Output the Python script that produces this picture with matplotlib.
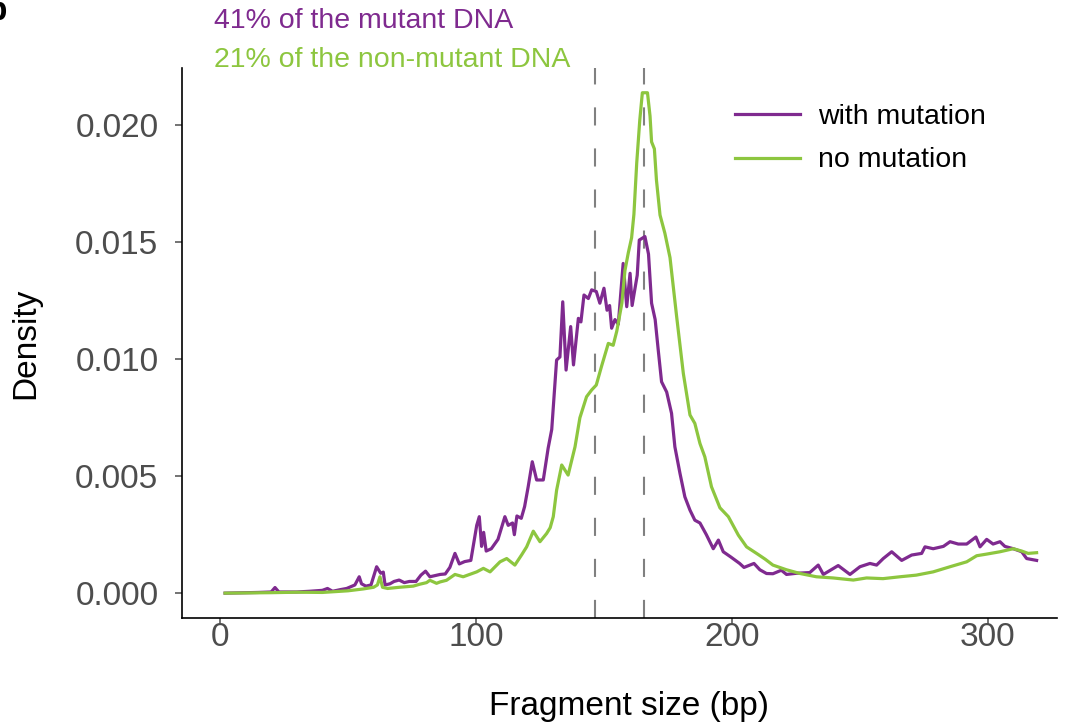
import numpy as np
import matplotlib.pyplot as plt

plt.rcParams['font.family'] = ['Liberation Sans', 'DejaVu Sans']

# fragment size (bp) and density (x 1e-3), with mutation
mut_size = [2, 10, 15, 20, 21.5, 23, 30, 35, 40, 42, 44, 47, 49.5, 52.7, 54.4, 55.3, 57, 59,
            61.2, 62.8, 63.8, 64.5, 66.4, 68, 70, 72, 74, 76.6, 78.5, 80.3, 82, 84, 86, 88,
            89.8, 91.8, 93.5, 95.6, 98, 100.3, 101.3, 102.2, 103, 104, 106, 108.6, 111.3,
            112.6, 114.3, 115, 116, 117.7, 119, 120.4, 122, 123.7, 126.3, 128.2, 129.6,
            131.5, 132.8, 133.9, 135.2, 137, 138.1, 140, 141, 142.2, 143.9, 145.2, 147,
            148.4, 150, 151.2, 152.2, 153, 154.3, 155.6, 157.5, 158.9, 160.2, 161, 163,
            163.8, 166, 167.4, 168.6, 170, 171.2, 172.5, 174.5, 176.4, 177.7, 179.7, 181.6,
            183.6, 185.5, 187.5, 190, 192.7, 194.7, 196.6, 199.5, 203, 204.7, 208.6, 210.9,
            213.5, 216, 219.3, 221.3, 225.2, 230.4, 233.7, 235.7, 241.5, 246.1, 250, 253.9,
            256.5, 259.1, 262.4, 266.3, 270.2, 274.1, 275.4, 278.6, 282.6, 285.2, 288.4,
            291.7, 295.3, 296.9, 299.5, 302, 304.7, 306.6, 309.9, 313.2, 315.1, 319]
mut_density = [0.0, 0.02, 0.03, 0.05, 0.24, 0.05, 0.05, 0.08, 0.12, 0.2, 0.08, 0.15, 0.2,
               0.35, 0.7, 0.4, 0.3, 0.35, 1.13, 0.85, 0.9, 0.35, 0.4, 0.5, 0.56, 0.45, 0.5,
               0.5, 0.77, 0.94, 0.7, 0.75, 0.8, 0.82, 1.1, 1.7, 1.25, 1.35, 1.4, 2.9, 3.27,
               2.0, 2.6, 1.8, 1.9, 2.3, 3.27, 2.9, 3.0, 2.5, 3.3, 3.2, 3.7, 4.55, 5.62, 4.84,
               4.84, 6.2, 7.0, 9.97, 10.1, 12.46, 9.54, 11.4, 9.76, 11.75, 11.6, 12.75, 12.6,
               12.97, 12.9, 12.4, 13.04, 12.1, 12.3, 11.33, 11.7, 11.5, 14.1, 12.25, 13.68,
               12.3, 13.6, 15.1, 15.25, 14.5, 12.4, 11.7, 10.4, 9.04, 8.6, 7.69, 6.26, 5.12,
               4.12, 3.55, 3.12, 3.0, 2.5, 1.9, 2.27, 1.77, 1.55, 1.27, 1.1, 1.27, 1.0, 0.84,
               0.83, 0.98, 0.8, 0.85, 0.88, 1.2, 0.8, 1.18, 0.8, 1.13, 1.27, 1.2, 1.48, 1.77,
               1.4, 1.63, 1.7, 1.98, 1.9, 2.0, 2.2, 2.1, 2.1, 2.4, 1.98, 2.3, 2.1, 2.2, 2.0,
               1.9, 1.77, 1.48, 1.4]

# no mutation
wt_size = [2, 20, 30, 40, 50, 56, 60, 61.5, 62.5, 63.5, 65.5, 70, 75.5, 78, 80.7, 82, 84.6,
           86, 88.5, 91.8, 95, 100.3, 102.9, 105.5, 109.4, 112, 115.2, 117.8, 119.8, 122.4,
           125, 127.6, 129, 130.2, 131.5, 133.5, 136, 138.7, 140.6, 143.2, 145.2, 147, 149,
           151.7, 153.6, 155, 157, 158.2, 159.5, 160.8, 161.7, 162.8, 164, 165, 167, 168,
           168.6, 169.7, 170.5, 171.9, 173.8, 175.8, 178.4, 181, 183.6, 185.5, 187.5, 189.4,
           192, 195.3, 198.6, 202.5, 205.7, 210.3, 213, 216, 221.3, 226.6, 233, 239.5, 247.4,
           252.6, 259, 265.6, 272, 278.6, 285.2, 291.7, 295.6, 299.5, 304.7, 309.9, 313.2,
           315.7, 319]
wt_density = [0.0, 0.02, 0.04, 0.03, 0.1, 0.18, 0.25, 0.35, 0.7, 0.25, 0.2, 0.25, 0.3, 0.38,
              0.45, 0.55, 0.42, 0.48, 0.55, 0.8, 0.7, 0.91, 1.06, 0.91, 1.34, 1.48, 1.2, 1.63,
              1.98, 2.65, 2.2, 2.55, 2.8, 3.27, 4.4, 5.48, 5.05, 6.26, 7.5, 8.4, 8.69, 8.9,
              9.68, 10.68, 10.6, 11.2, 12.4, 13.8, 14.55, 15.2, 16.2, 18.4, 20.24, 21.4, 21.4,
              20.4, 19.3, 19.0, 17.67, 16.17, 15.39, 14.35, 11.82, 9.4, 7.62, 7.26, 6.4, 5.83,
              4.55, 3.65, 3.27, 2.48, 1.98, 1.65, 1.45, 1.2, 1.0, 0.84, 0.7, 0.65, 0.56, 0.65,
              0.62, 0.7, 0.77, 0.91, 1.13, 1.34, 1.6, 1.67, 1.77, 1.9, 1.8, 1.7, 1.73]

ref_sizes = [146.5, 165.7]
labels = ['with mutation', 'no mutation']
notes = ['41% of the mutant DNA', '21% of the non-mutant DNA']
purple = '#7f2a8f'
green = '#8dc63f'

fig = plt.figure(figsize=(10.71, 7.23), dpi=100)
ax = fig.add_axes([0.170, 0.145, 0.817, 0.761])

for s in ref_sizes:
    ax.axvline(s, color='#808080', lw=1.5, linestyle=(0, (8.7, 11)))

ax.plot(mut_size, np.array(mut_density) / 1000, color=purple, lw=2.3, label=labels[0])
ax.plot(wt_size, np.array(wt_density) / 1000, color=green, lw=2.3, label=labels[1])

ax.set_xlim(-14.8, 327)
ax.set_ylim(-0.00107, 0.02246)
ax.set_xticks([0, 100, 200, 300])
ax.set_yticks([0, 0.005, 0.01, 0.015, 0.02])
ax.set_yticklabels(['0.000', '0.005', '0.010', '0.015', '0.020'])
ax.tick_params(labelsize=24, colors='#4d4d4d', length=5, width=1.1)
ax.tick_params(axis='y', pad=12)
ax.tick_params(axis='x', pad=-2.5)
for sp in ['top', 'right']:
    ax.spines[sp].set_visible(False)
for sp in ['left', 'bottom']:
    ax.spines[sp].set_linewidth(1.2)
ax.set_xlabel('Fragment size (bp)', fontsize=24)
ax.set_ylabel('Density', fontsize=24)
ax.xaxis.set_label_coords(0.511, -0.133)
ax.yaxis.set_label_coords(-0.161, 0.5)

ax.legend(loc='upper left', bbox_to_anchor=(0.619, 0.956), frameon=False,
          fontsize=20.5, handlelength=2.28, handletextpad=0.63, labelspacing=0.63,
          borderaxespad=0)

fig.text(0.2, 0.971, notes[0], color=purple, fontsize=20.5, va='center')
fig.text(0.2, 0.917, notes[1], color=green, fontsize=20.5, va='center')
# panel letter, cropped at the corner as in the source figure
fig.text(-0.012, 1.005, 'b', fontsize=24, fontweight='bold', va='top')

fig.savefig('out.png', dpi=100)
